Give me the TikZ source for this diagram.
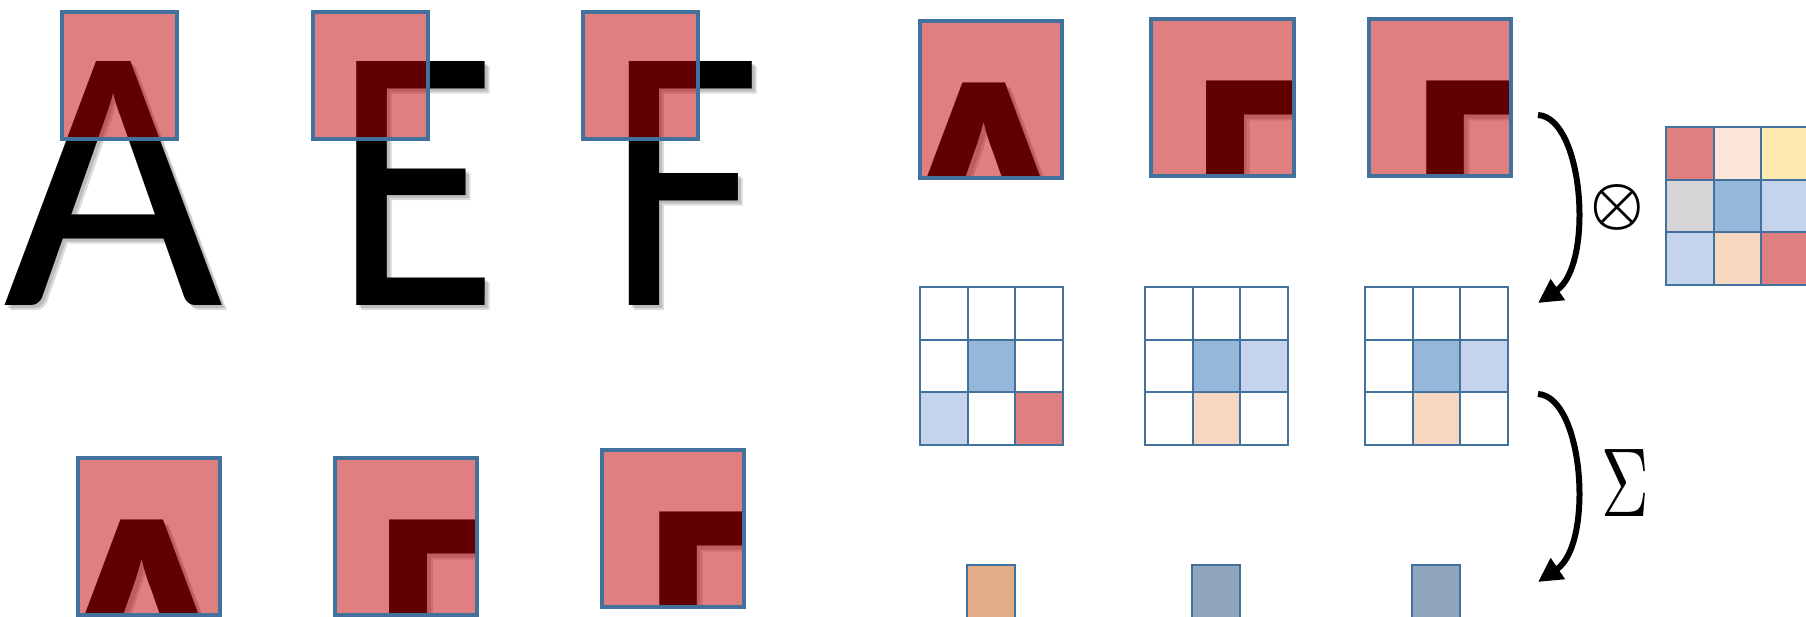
\documentclass[tikz,border=0pt]{standalone}
\usepackage{fontspec}
\usepackage{graphicx}
\usepackage{bm}
\usetikzlibrary{arrows.meta}
\newfontfamily\letterfont{Carlito}
\definecolor{bordblue}{RGB}{65,113,156}
\definecolor{darkred}{RGB}{192,0,0}
\definecolor{kred}{RGB}{223,127,127}
\definecolor{kpeachl}{RGB}{252,228,214}
\definecolor{kyellow}{RGB}{255,233,176}
\definecolor{kgray}{RGB}{214,213,214}
\definecolor{kblue}{RGB}{149,183,217}
\definecolor{klblue}{RGB}{197,212,236}
\definecolor{kpeach}{RGB}{248,215,192}
\definecolor{sqorange}{RGB}{226,172,136}
\definecolor{sqblue}{RGB}{143,166,190}
\tikzset{
  letterstyle/.style={inner sep=0, outer sep=0, anchor=base west, text=black},
  lettershadow/.style={letterstyle, text opacity=0.14},
  overlayfill/.style={fill=darkred, fill opacity=0.5},
  boxline/.style={draw=bordblue, line width=4pt},
  cell/.style={draw=bordblue, line width=2pt, minimum width=47.5pt, minimum height=52.7pt, inner sep=0, outer sep=0},
  sqnode/.style={draw=bordblue, line width=2pt, minimum width=47.5pt, minimum height=53pt, inner sep=0, outer sep=0},
  curvearrow/.style={line width=6pt, -{Triangle[length=24pt,width=24pt]}},
}
% #1 letter, #2 horizontal squeeze
\newcommand\bigletter[2]{\scalebox{#2}[1]{\resizebox{!}{244pt}{\letterfont\fontsize{200}{200}\selectfont #1}}}
% #1 name, #2 letter, #3 squeeze, #4 x, #5 baseline y
\newcommand\glyph[5]{%
  \node[lettershadow] (#1s1) at ({#4+3},{#5+3}) {\bigletter{#2}{#3}};
  \node[lettershadow] (#1s2) at ({#4+5},{#5+5}) {\bigletter{#2}{#3}};
  \node[letterstyle] (#1) at (#4,#5) {\bigletter{#2}{#3}};
}
\def\pscale{1.24}
\def\Ax{4}
\def\Ex{332.7}
\def\Fx{606.7}
\def\Asq{1}
\def\Esq{0.9}
\def\Fsq{0.89}
% #1 prefix, #2 letter, #3 squeeze, #4 letter x, #5 window centre x, #6 patch cx, #7 patch cy
\newcommand\patch[7]{%
  \begin{scope}
  \begin{scope}[shift={({#6-\pscale*#5},{#7-\pscale*75.5})}, scale=\pscale, every node/.append style={transform shape}]
    \clip ({#5-57.5},12) rectangle ({#5+57.5},139);
    \fill[white] ({#5-57.5},12) rectangle ({#5+57.5},139);
    \glyph{#1}{#2}{#3}{#4}{306}
    \fill[overlayfill] ({#5-57.5},12) rectangle ({#5+57.5},139);
  \end{scope}
  \draw[boxline] ({#6-\pscale*57.5},{#7-\pscale*63.5}) rectangle ({#6+\pscale*57.5},{#7+\pscale*63.5});
  \end{scope}
}
\newcommand\cellgrid[4]{%
  \foreach \cellcol [count=\k from 0] in {#4} {
    \pgfmathtruncatemacro\cellrow{\k/3}
    \pgfmathtruncatemacro\cellcolumn{mod(\k,3)}
    \node[cell, fill=\cellcol] (#1-\cellrow-\cellcolumn) at ({#2+(\cellcolumn+0.5)*47.5},{#3+(\cellrow+0.5)*52.7}) {};
  }%
}
\begin{document}
\begin{tikzpicture}[x=1pt, y=-1pt]
\useasboundingbox (0,0) rectangle (1806,617);
\fill[white] (0,0) rectangle (1806,617);
% big letters with overlay windows
\glyph{A}{A}{\Asq}{\Ax}{306}
\glyph{E}{E}{\Esq}{\Ex}{306}
\glyph{F}{F}{\Fsq}{\Fx}{306}
\foreach \cx in {119.5,370,640.5} {
  \fill[overlayfill] ({\cx-57.5},12) rectangle ({\cx+57.5},139);
  \draw[boxline] ({\cx-57.5},12) rectangle ({\cx+57.5},139);
}
% enlarged patches
\patch{pA1}{A}{\Asq}{\Ax}{119.5}{991}{99.5}
\patch{pE1}{E}{\Esq}{\Ex}{370}{1222.5}{97.5}
\patch{pF1}{F}{\Fsq}{\Fx}{640.5}{1440}{97.5}
\patch{pA2}{A}{\Asq}{\Ax}{119.5}{149}{536.5}
\patch{pE2}{E}{\Esq}{\Ex}{370}{406}{536.5}
\patch{pF2}{F}{\Fsq}{\Fx}{640.5}{673}{528.5}
% grids
\cellgrid{g1}{920}{287}{white,white,white,white,kblue,white,klblue,white,kred}
\cellgrid{g2}{1145}{287}{white,white,white,white,kblue,klblue,white,kpeach,white}
\cellgrid{g3}{1365}{287}{white,white,white,white,kblue,klblue,white,kpeach,white}
\cellgrid{ker}{1666}{127}{kred,kpeachl,kyellow,kgray,kblue,klblue,klblue,kpeach,kred}
% result squares
\node[sqnode, fill=sqorange] (s1) at (991,591.5) {};
\node[sqnode, fill=sqblue] (s2) at (1216,591.5) {};
\node[sqnode, fill=sqblue] (s3) at (1436,591.5) {};
% arrows
\coordinate (a1s) at (1538,115);
\coordinate (a1e) at (1538,303);
\coordinate (a2s) at (1538,394);
\coordinate (a2e) at (1538,582);
\draw[curvearrow] (a1s) .. controls (1584,118) and (1594,265) .. (a1e);
\draw[curvearrow] (a2s) .. controls (1584,397) and (1594,544) .. (a2e);
\node[inner sep=0] (otimes) at (1617,208) {\scalebox{6}{$\bm{\otimes}$}};
\node[inner sep=0] (sigma) at (1625,483) {\scalebox{6.6}[9.8]{$\Sigma$}};
\end{tikzpicture}
\end{document}
